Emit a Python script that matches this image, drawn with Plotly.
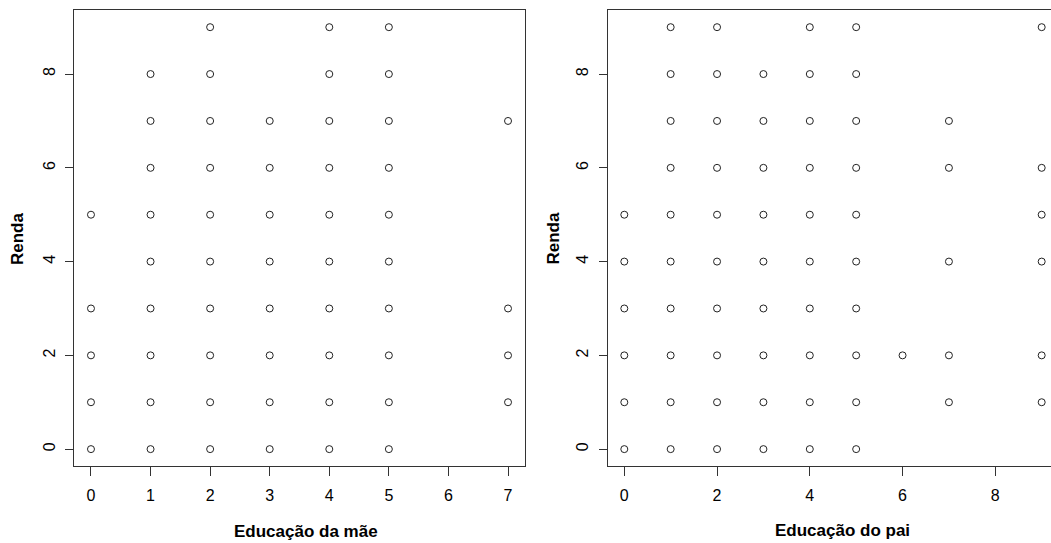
import plotly.graph_objects as go

# Left panel: Educação da mãe vs Renda
mae_x = [0]*5 + [1]*9 + [2]*10 + [3]*8 + [4]*10 + [5]*10 + [7]*4
mae_y = ([5, 3, 2, 1, 0] +
         [8, 7, 6, 5, 4, 3, 2, 1, 0] +
         [9, 8, 7, 6, 5, 4, 3, 2, 1, 0] +
         [7, 6, 5, 4, 3, 2, 1, 0] +
         [9, 8, 7, 6, 5, 4, 3, 2, 1, 0] +
         [9, 8, 7, 6, 5, 4, 3, 2, 1, 0] +
         [7, 3, 2, 1])

# Right panel: Educação do pai vs Renda
pai_x = [0]*6 + [1]*10 + [2]*10 + [3]*9 + [4]*10 + [5]*10 + [6]*1 + [7]*5 + [9]*6
pai_y = ([5, 4, 3, 2, 1, 0] +
         [9, 8, 7, 6, 5, 4, 3, 2, 1, 0] +
         [9, 8, 7, 6, 5, 4, 3, 2, 1, 0] +
         [8, 7, 6, 5, 4, 3, 2, 1, 0] +
         [9, 8, 7, 6, 5, 4, 3, 2, 1, 0] +
         [9, 8, 7, 6, 5, 4, 3, 2, 1, 0] +
         [2] +
         [7, 6, 4, 2, 1] +
         [9, 6, 5, 4, 2, 1])

mae_ticks = [0, 1, 2, 3, 4, 5, 6, 7]
pai_ticks = [0, 2, 4, 6, 8]
renda_ticks = [0, 2, 4, 6, 8]

W, H = 1051, 543
FONT = "Liberation Sans, Arial, sans-serif"
LINE = "#333333"

marker = dict(symbol="circle-open", size=7, color="#222222", line=dict(width=1, color="#222222"))

fig = go.Figure()
fig.add_trace(go.Scatter(x=mae_x, y=mae_y, mode="markers", marker=marker,
                         xaxis="x", yaxis="y", showlegend=False))
fig.add_trace(go.Scatter(x=pai_x, y=pai_y, mode="markers", marker=marker,
                         xaxis="x2", yaxis="y2", showlegend=False))

def px_x(p):
    return p / W

def px_y(p):
    return (H - p) / H

y_dom = [px_y(466), px_y(10.3)]

common_x = dict(showgrid=False, zeroline=False, showline=True, linecolor=LINE, linewidth=1,
                mirror=True, ticks="outside", ticklen=9, tickcolor=LINE, tickwidth=1,
                tickfont=dict(family=FONT, size=16, color="black"), ticklabelstandoff=6)
common_y = dict(showgrid=False, zeroline=False, showline=True, linecolor=LINE, linewidth=1,
                ticks="outside", ticklen=8, tickcolor=LINE, tickwidth=1, tickangle=-90,
                tickfont=dict(family=FONT, size=16, color="black"), ticklabelstandoff=4,
                tickvals=renda_ticks, range=[-0.36, 9.36], domain=y_dom)

fig.update_layout(
    width=W, height=H,
    margin=dict(l=0, r=0, t=0, b=0),
    paper_bgcolor="white", plot_bgcolor="white",
    xaxis=dict(common_x, domain=[px_x(74.3), px_x(524.7)], range=[-0.28, 7.28],
               tickvals=mae_ticks, anchor="y"),
    yaxis=dict(common_y, anchor="x", mirror=True),
    xaxis2=dict(common_x, domain=[px_x(607.6), 1.0], range=[-0.36, 9.201],
                tickvals=pai_ticks, anchor="y2", mirror=True),
    yaxis2=dict(common_y, anchor="x2", mirror=False),
    font=dict(family=FONT, color="black"),
    hovermode=False,
)

title_font = dict(family=FONT, size=17, color="black")
fig.add_annotation(text="<b>Educação da mãe</b>", xref="paper", yref="paper",
                   x=px_x(305.8), y=px_y(531), xanchor="center", yanchor="middle",
                   showarrow=False, font=title_font)
fig.add_annotation(text="<b>Educação do pai</b>", xref="paper", yref="paper",
                   x=px_x(842), y=px_y(530), xanchor="center", yanchor="middle",
                   showarrow=False, font=title_font)
fig.add_annotation(text="<b>Renda</b>", xref="paper", yref="paper",
                   x=px_x(17.5), y=px_y(238.5), xanchor="center", yanchor="middle",
                   textangle=-90, showarrow=False, font=title_font)
fig.add_annotation(text="<b>Renda</b>", xref="paper", yref="paper",
                   x=px_x(553), y=px_y(238.5), xanchor="center", yanchor="middle",
                   textangle=-90, showarrow=False, font=title_font)

fig.write_html("out.html", config={"displayModeBar": False},
               post_script="document.body.style.margin='0';document.body.style.overflow='hidden';")
